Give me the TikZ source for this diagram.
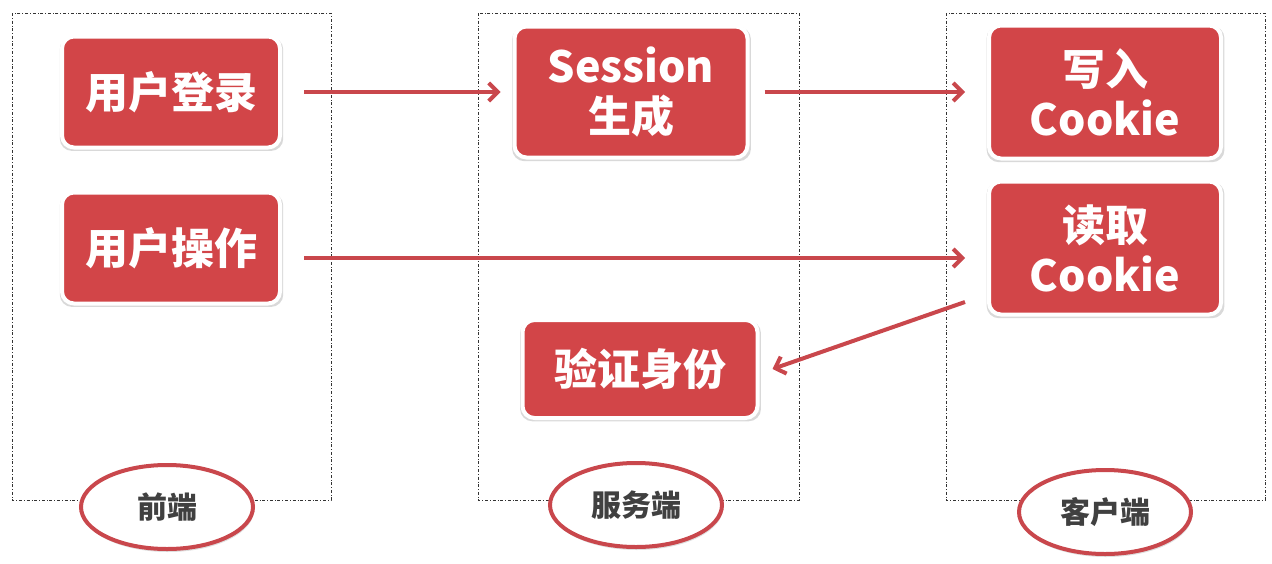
\documentclass[tikz,border=0pt]{standalone}
\usepackage{fontspec}
\newfontfamily\cjk{Noto Sans CJK SC}
\usetikzlibrary{arrows.meta,shadows,shapes.geometric}

\definecolor{boxred}{HTML}{D24548}
\definecolor{linered}{HTML}{C9474C}
\definecolor{labelgray}{HTML}{404040}

\begin{document}
\begin{tikzpicture}[x=1pt, y=-1pt,
    stepbox/.style={rounded corners=12pt, fill=boxred, draw=white, line width=4pt,
        drop shadow={opacity=0.3, shadow xshift=0.5pt, shadow yshift=-2pt, shadow scale=1.025},
        text=white, font=\cjk\bfseries\fontsize{43}{50}\selectfont, align=center,
        minimum width=218pt, minimum height=111pt, inner sep=0pt},
    sidebox/.style={draw=black!80, line width=0.6pt, dash dot},
    sidelabel/.style={ellipse, draw=linered, line width=4pt, fill=white,
        drop shadow={opacity=0.25, shadow xshift=1pt, shadow yshift=-3pt},
        minimum width=172pt, minimum height=84pt, text=labelgray,
        font=\cjk\bfseries\fontsize{30}{34}\selectfont},
    flow/.style={draw=linered, line width=4pt, -{Straight Barb[length=9pt, width=18pt, line width=4pt]}}]

        \useasboundingbox (0,0) rectangle (1272,563);

        % ==== SIDES ====
        \draw[sidebox] (12,13) rectangle (331,500);
        \draw[sidebox] (478,13) rectangle (799,500);
        \draw[sidebox] (946,13) rectangle (1265,500);

        % ==== STEPS ====
        \node[stepbox] (login) at (171,92) {用户登录};
        \node[stepbox] (action) at (171,248) {用户操作};
        \node[stepbox, minimum width=233pt, minimum height=131pt] (session) at (631,92) {Session\\生成};
        \node[stepbox, minimum width=232pt, minimum height=133pt] (write) at (1105,92) {写入\\Cookie};
        \node[stepbox, minimum width=232pt, minimum height=133pt] (read) at (1105,248) {读取\\Cookie};
        \node[stepbox, minimum width=235pt, minimum height=98pt] (verify) at (640,369) {验证身份};

        % ==== LABELS ====
        \node[sidelabel] (front) at (167,507) {前端};
        \node[sidelabel] (server) at (636,505) {服务端};
        \node[sidelabel] (client) at (1105,512) {客户端};

        % ==== ARROWS ====
        \draw[flow] ([xshift=22pt]login.east) -- ([xshift=-12pt]session.west);
        \draw[flow] ([xshift=15pt]session.east) -- ([xshift=-22pt]write.west);
        \draw[flow] ([xshift=22pt,yshift=-10pt]action.east) -- ([xshift=-22pt,yshift=-10pt]read.west);
        \draw[flow] ([xshift=-22pt,yshift=-54pt]read.west) -- ([xshift=13pt]verify.east);

    \end{tikzpicture}
\end{document}
